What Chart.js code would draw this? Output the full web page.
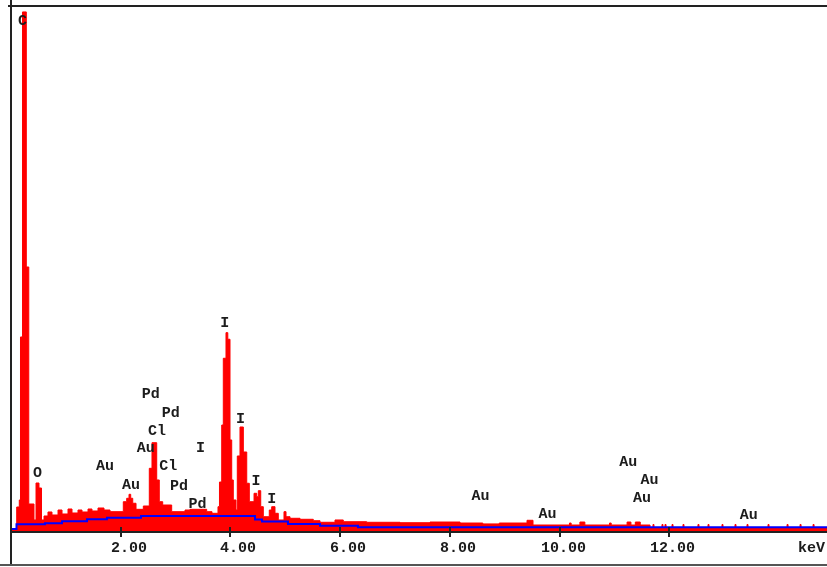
<!DOCTYPE html>
<html>
<head>
<meta charset="utf-8">
<title>EDS spectrum</title>
<script src="https://cdn.jsdelivr.net/npm/chart.js@4.4.0/dist/chart.umd.min.js"></script>
<style>
  html, body { margin: 0; padding: 0; background: #fff; }
  canvas { display: block; }
</style>
</head>
<body>
<canvas id="spectrum" width="827" height="567"></canvas>
<script>
'use strict';
// spectrum: each energy (keV) starts a channel block holding that count
const energy = [0.000, 0.104, 0.151, 0.173, 0.210, 0.279, 0.324, 0.419, 0.456, 0.510,
  0.556, 0.602, 0.674, 0.747, 0.857, 0.930, 1.039, 1.112, 1.221, 1.294,
  1.404, 1.476, 1.586, 1.695, 1.805, 2.047, 2.109, 2.151, 2.182, 2.219,
  2.279, 2.412, 2.521, 2.570, 2.656, 2.703, 2.765, 2.929, 3.172, 3.263,
  3.567, 3.664, 3.773, 3.800, 3.841, 3.870, 3.919, 3.952, 3.992, 4.023,
  4.052, 4.101, 4.125, 4.174, 4.235, 4.297, 4.344, 4.430, 4.479, 4.508,
  4.552, 4.599, 4.708, 4.752, 4.812, 4.872, 4.976, 5.013, 5.086, 5.268,
  5.510, 5.633, 5.906, 6.057, 6.484, 7.091, 7.638, 8.185, 8.600, 8.900,
  9.406, 9.515, 10.18, 10.21, 10.37, 10.46, 10.91, 10.94, 11.23, 11.30,
  11.38, 11.47, 11.648, 11.702, 11.72, 11.866, 11.884, 11.921, 11.94, 12.049,
  12.067, 12.249, 12.267, 12.522, 12.54, 12.705, 12.723, 12.96, 12.978, 13.197,
  13.215, 13.416, 13.434, 13.799, 13.817, 14.146, 14.164, 14.383, 14.401, 14.62,
  14.638, 14.874];
const counts = [3.8, 45.7, 59.1, 369.6, 988.7, 502.9, 51.4, 21.0, 91.4, 81.9,
  21.0, 28.6, 36.2, 30.5, 40.0, 32.4, 41.9, 34.3, 40.0, 36.2,
  41.9, 38.1, 43.8, 40.0, 36.8, 55.8, 62.3, 69.9, 62.3, 52.8,
  41.3, 47.6, 119.4, 168.2, 97.2, 55.8, 49.5, 36.8, 40.0, 41.3,
  36.8, 33.7, 46.3, 93.3, 201.9, 329.0, 377.8, 365.2, 173.4, 97.2,
  59.1, 40.0, 142.9, 198.1, 150.5, 90.9, 55.8, 71.8, 65.3, 76.8,
  46.3, 27.2, 40.0, 46.3, 33.7, 21.0, 36.8, 27.2, 24.2, 22.3,
  19.6, 16.6, 21.0, 17.7, 16.6, 15.8, 17.1, 15.2, 13.5, 15.2,
  20.4, 11.4, 15.2, 11.4, 17.1, 11.4, 15.2, 11.4, 17.1, 11.4,
  17.1, 11.4, 6.7, 12.4, 6.7, 12.4, 6.7, 12.4, 6.7, 12.4,
  6.7, 12.4, 6.7, 12.4, 6.7, 12.4, 6.7, 12.4, 6.7, 12.4,
  6.7, 12.4, 6.7, 12.4, 6.7, 12.4, 6.7, 12.4, 6.7, 12.4,
  6.7, 6.7];

// fitted background (blue)
const bgEnergy = [0, 0.10, 0.62, 0.93, 1.385, 1.75, 2.37, 4.448, 4.575, 5.049, 5.633, 6.325, 14.874];
const bgCounts = [3.8, 12.8, 14.7, 18.5, 22.3, 25.3, 28.6, 21.9, 18.1, 13.3, 10.1, 7.0, 7.0];

// peak labels
const labelText = ['C', 'O', 'Au', 'Au', 'Au', 'Cl', 'Cl', 'Pd', 'Pd', 'Pd', 'Pd',
  'I', 'I', 'I', 'I', 'I', 'Au', 'Au', 'Au', 'Au', 'Au', 'Au'];
const labelEnergy = [0.210, 0.483, 1.713, 2.187, 2.457, 2.661, 2.867, 2.548, 2.913, 3.062, 3.400,
  3.454, 3.895, 4.183, 4.466, 4.752, 8.558, 9.779, 11.252, 11.639, 11.502, 13.447];
const labelCounts = [970.6, 110.5, 122.5, 87.6, 157.5, 190.9, 123.8, 259.7, 225.2, 86.1, 51.1,
  157.5, 395.7, 212.0, 94.7, 60.0, 67.1, 32.8, 131.4, 96.6, 62.9, 29.5];

const tickValues = [2, 4, 6, 8, 10, 12];
const unitLabel = 'keV';
const energyMax = 14.874;
const countMax = 1000;

const monoFont = 'bold 15px "Liberation Mono", "DejaVu Sans Mono", monospace';

function toPoints(xs, ys) {
  return xs.map((x, i) => ({ x: x, y: ys[i] }));
}

const frame = {
  id: 'frame',
  afterDatasetsDraw(chart) {
    const ctx = chart.ctx;
    const xs = chart.scales.x;
    const ys = chart.scales.y;
    const area = chart.chartArea;

    ctx.save();
    ctx.font = monoFont;
    ctx.fillStyle = '#1c1c1c';
    ctx.textAlign = 'center';
    ctx.textBaseline = 'middle';
    for (let i = 0; i < labelText.length; i++) {
      ctx.fillText(labelText[i], xs.getPixelForValue(labelEnergy[i]), ys.getPixelForValue(labelCounts[i]));
    }

    ctx.strokeStyle = '#222';
    ctx.lineWidth = 2;
    ctx.beginPath();
    ctx.moveTo(area.left, 0);
    ctx.lineTo(area.left, 566);
    ctx.moveTo(area.left - 3, area.top);
    ctx.lineTo(chart.width, area.top);
    ctx.moveTo(area.left, area.bottom + 1);
    ctx.lineTo(chart.width, area.bottom + 1);
    ctx.stroke();

    ctx.strokeStyle = '#555';
    ctx.beginPath();
    ctx.moveTo(0, 565);
    ctx.lineTo(chart.width, 565);
    ctx.stroke();

    ctx.strokeStyle = '#222';
    ctx.textAlign = 'right';
    for (const t of tickValues) {
      const px = Math.round(xs.getPixelForValue(t));
      ctx.beginPath();
      ctx.moveTo(px, area.bottom - 4);
      ctx.lineTo(px, area.bottom + 6);
      ctx.stroke();
      ctx.fillText(t.toFixed(2), px + 26, area.bottom + 17);
    }
    ctx.fillText(unitLabel, chart.width - 2, area.bottom + 17);
    ctx.restore();
  }
};

const ctx = document.getElementById('spectrum').getContext('2d');
new Chart(ctx, {
  type: 'line',
  data: {
    datasets: [{
      label: 'background',
      data: toPoints(bgEnergy, bgCounts),
      borderColor: '#0000ff',
      borderWidth: 2,
      fill: false,
      stepped: true,
      pointRadius: 0,
      order: 0
    },
    {
      label: 'spectrum',
      data: toPoints(energy, counts),
      borderColor: '#ff0000',
      backgroundColor: '#ff0000',
      borderWidth: 1,
      fill: 'origin',
      stepped: true,
      pointRadius: 0,
      order: 1
    }]
  },
  options: {
    responsive: false,
    devicePixelRatio: 1,
    animation: false,
    layout: { padding: { left: 11, top: 6, right: 0, bottom: 36 } },
    plugins: { legend: { display: false }, tooltip: { enabled: false } },
    scales: {
      x: { type: 'linear', min: 0, max: energyMax, display: false },
      y: { min: 0, max: countMax, display: false }
    }
  },
  plugins: [frame]
});
</script>
</body>
</html>
